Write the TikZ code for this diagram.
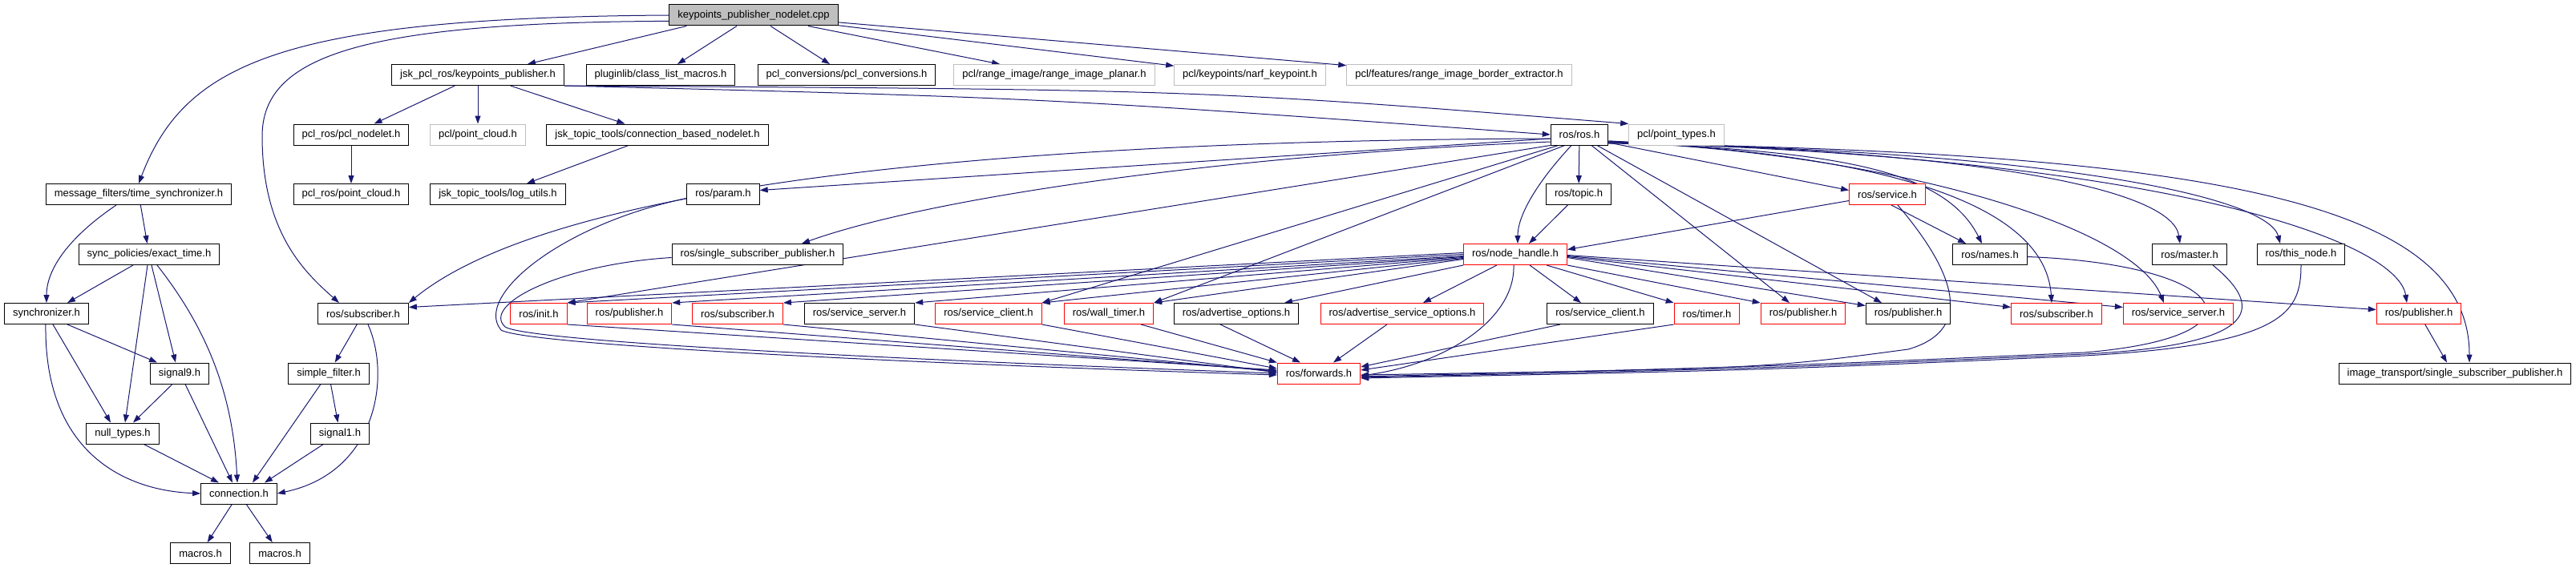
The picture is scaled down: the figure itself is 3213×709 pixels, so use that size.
\documentclass[tikz,border=0pt]{standalone}
\usepackage{fontspec}
\setmainfont{Liberation Sans}
\usetikzlibrary{arrows.meta,backgrounds}
\definecolor{edgeblue}{HTML}{191970}
\definecolor{greyline}{HTML}{BFBFBF}
\definecolor{rootgrey}{HTML}{BFBFBF}
\definecolor{cutred}{HTML}{FF0000}
\tikzstyle{hdrbox} = [
    draw=black,
    fill=white,
    line width=1pt,
    rectangle,
    font=\fontsize{13}{15}\selectfont,
    inner xsep=10.5pt,
    inner ysep=2pt,
    minimum height=26pt
    ]
\tikzstyle{extbox} = [hdrbox, draw=greyline]
\tikzstyle{redbox} = [hdrbox, draw=cutred]
\tikzstyle{rootbox} = [hdrbox, fill=rootgrey]
\tikzstyle{dep} = [
    draw=edgeblue,
    line width=1pt,
    -{Triangle[length=10pt,width=7pt]}
    ]

\begin{document}
\begin{tikzpicture}[x=1pt,y=1pt]
\useasboundingbox (0,0) rectangle (3213,-709);
% row 0 and 1
\node[rootbox] (root) at (940,-19) {keypoints\_publisher\_nodelet.cpp};
\node[hdrbox] (kph) at (596,-93.5) {jsk\_pcl\_ros/keypoints\_publisher.h};
\node[hdrbox] (plugin) at (824,-93.5) {pluginlib/class\_list\_macros.h};
\node[hdrbox] (pclconv) at (1056,-93.5) {pcl\_conversions/pcl\_conversions.h};
\node[extbox] (rangeplanar) at (1315,-93.5) {pcl/range\_image/range\_image\_planar.h};
\node[extbox] (narf) at (1559,-93.5) {pcl/keypoints/narf\_keypoint.h};
\node[extbox] (border) at (1820,-93.5) {pcl/features/range\_image\_border\_extractor.h};
% row 2
\node[hdrbox] (pclnodelet) at (438,-168) {pcl\_ros/pcl\_nodelet.h};
\node[extbox] (pointcloud) at (596,-168) {pcl/point\_cloud.h};
\node[hdrbox] (connnodelet) at (820,-168) {jsk\_topic\_tools/connection\_based\_nodelet.h};
\node[hdrbox] (rosh) at (1970,-168) {ros/ros.h};
\node[extbox] (pointtypes) at (2091,-168) {pcl/point\_types.h};
% row 3
\node[hdrbox] (timesync) at (173,-242.5) {message\_filters/time\_synchronizer.h};
\node[hdrbox] (pclpc) at (438,-242.5) {pcl\_ros/point\_cloud.h};
\node[hdrbox] (logutils) at (621,-242.5) {jsk\_topic\_tools/log\_utils.h};
\node[hdrbox] (param) at (902,-242.5) {ros/param.h};
\node[hdrbox] (topic) at (1969,-242.5) {ros/topic.h};
\node[redbox] (service) at (2354,-242.5) {ros/service.h};
% row 4
\node[hdrbox] (exacttime) at (186,-317.5) {sync\_policies/exact\_time.h};
\node[hdrbox] (ssp) at (945,-317.5) {ros/single\_subscriber\_publisher.h};
\node[redbox] (nodehandle) at (1890,-317.5) {ros/node\_handle.h};
\node[hdrbox] (names) at (2482,-317.5) {ros/names.h};
\node[hdrbox] (master) at (2731,-317.5) {ros/master.h};
\node[hdrbox] (thisnode) at (2870,-317.5) {ros/this\_node.h};
% row 5
\node[hdrbox] (sync) at (58,-391.5) {synchronizer.h};
\node[hdrbox] (sub) at (453,-391.5) {ros/subscriber.h};
\node[redbox] (init) at (672,-391.5) {ros/init.h};
\node[redbox] (pubA) at (785,-391.5) {ros/publisher.h};
\node[redbox] (subA) at (920,-391.5) {ros/subscriber.h};
\node[hdrbox] (srvsrvA) at (1072,-391.5) {ros/service\_server.h};
\node[redbox] (srvcliA) at (1233,-391.5) {ros/service\_client.h};
\node[redbox] (walltimer) at (1383,-391.5) {ros/wall\_timer.h};
\node[hdrbox] (advopt) at (1542,-391.5) {ros/advertise\_options.h};
\node[redbox] (advsrvopt) at (1749,-391.5) {ros/advertise\_service\_options.h};
\node[hdrbox] (srvcliB) at (1996,-391.5) {ros/service\_client.h};
\node[redbox] (timer) at (2129,-391.5) {ros/timer.h};
\node[redbox] (pubB) at (2249,-391.5) {ros/publisher.h};
\node[hdrbox] (pubC) at (2380,-391.5) {ros/publisher.h};
\node[redbox] (subB) at (2565,-391.5) {ros/subscriber.h};
\node[redbox] (srvsrvB) at (2717,-391.5) {ros/service\_server.h};
\node[redbox] (pubD) at (3017,-391.5) {ros/publisher.h};
% row 6 to 9
\node[hdrbox] (signal9) at (224,-466) {signal9.h};
\node[hdrbox] (simplefilter) at (410,-466) {simple\_filter.h};
\node[redbox] (forwards) at (1645,-466) {ros/forwards.h};
\node[hdrbox] (itssp) at (3062,-466) {image\_transport/single\_subscriber\_publisher.h};
\node[hdrbox] (nulltypes) at (153,-541) {null\_types.h};
\node[hdrbox] (signal1) at (424,-541) {signal1.h};
\node[hdrbox] (connection) at (298,-616) {connection.h};
\node[hdrbox] (macrosA) at (250,-690.5) {macros.h};
\node[hdrbox] (macrosB) at (349,-690.5) {macros.h};

\begin{scope}[on background layer]
% includes of the nodelet
\draw[dep] ([xshift=22pt]root.south west) -- ([xshift=62pt]kph.north);
\draw[dep] (root) -- (plugin);
\draw[dep] (root) -- (pclconv);
\draw[dep] (root) -- (rangeplanar);
\draw[dep] (root) -- (narf);
\draw[dep] (root) -- (border);
\draw[dep] (root.west) .. controls (350,-22) and (230,-80) .. (timesync.north);
\draw[dep] (root.184) .. controls (450,-28) and (327,-70) .. (327,-170)
    .. controls (327,-290) and (380,-340) .. ([xshift=-30pt]sub.north);
% keypoints_publisher.h
\draw[dep] (kph) -- (pclnodelet);
\draw[dep] (kph) -- (pointcloud);
\draw[dep] (kph) -- (connnodelet);
\draw[dep] (kph.south east) .. controls (1300,-122) .. (rosh.west);
\draw[dep] (kph.south east) .. controls (1500,-112) .. (pointtypes.north west);
\draw[dep] (pclnodelet) -- (pclpc);
\draw[dep] (connnodelet) -- (logutils);
% message_filters
\draw[dep] ([xshift=-28pt]timesync.south) .. controls (80,-300) and (58,-340) .. (sync.north);
\draw[dep] (timesync) -- (exacttime);
\draw[dep] ([xshift=-20pt]exacttime.south) -- ([xshift=26pt]sync.north);
\draw[dep] ([xshift=3pt]exacttime.south) -- ([xshift=-5pt]signal9.north);
\draw[dep] ([xshift=-2pt]exacttime.south) -- ([xshift=3pt]nulltypes.north);
\draw[dep] ([xshift=10pt]exacttime.south) .. controls (250,-400) and (290,-480) .. ([xshift=-2pt]connection.north);
\draw[dep] ([xshift=26pt]sync.south) -- ([xshift=-28pt]signal9.north);
\draw[dep] ([xshift=8pt]sync.south) -- ([xshift=-15pt]nulltypes.north);
\draw[dep] ([xshift=-1pt]sync.south) .. controls (55,-560) and (150,-612) .. (connection.west);
\draw[dep] ([xshift=-9pt]signal9.south) -- ([xshift=13pt]nulltypes.north);
\draw[dep] ([xshift=7pt]signal9.south) -- ([xshift=-8pt]connection.north);
\draw[dep] (nulltypes) -- ([xshift=-25pt]connection.north);
\draw[dep] (sub) -- (simplefilter);
\draw[dep] ([xshift=6pt]sub.south) .. controls (488,-470) and (470,-590) .. (connection.east);
\draw[dep] (simplefilter) -- (signal1);
\draw[dep] ([xshift=-10pt]simplefilter.south) -- ([xshift=17pt]connection.north);
\draw[dep] (signal1) -- ([xshift=32pt]connection.north);
\draw[dep] (connection) -- (macrosA);
\draw[dep] (connection) -- (macrosB);
% ros/ros.h
\draw[dep] ([yshift=-5pt]rosh.west) .. controls (1300,-175) and (700,-222) .. (sub.north east);
\draw[dep] ([yshift=-5pt]rosh.west) -- ([yshift=5pt]param.east);
\draw[dep] ([yshift=-9pt]rosh.west) .. controls (1500,-195) and (1150,-250) .. ([xshift=55pt]ssp.north);
\draw[dep] (rosh.south west) -- (init.north east);
\draw[dep] ([xshift=10pt]rosh.south west) -- (srvcliA.north east);
\draw[dep] ([xshift=18pt]rosh.south west) -- (walltimer.north east);
\draw[dep] (rosh) -- (topic);
\draw[dep] ([xshift=-10pt]rosh.south) .. controls (1915,-230) and (1893,-270) .. ([xshift=3pt]nodehandle.north);
\draw[dep] ([xshift=15pt]rosh.south) -- ([xshift=-17pt]pubB.north);
\draw[dep] ([xshift=22pt]rosh.south) -- ([xshift=-33pt]pubC.north);
\draw[dep] ([yshift=-10pt]rosh.east) -- ([yshift=5pt]service.west);
\draw[dep] ([yshift=-8pt]rosh.east) .. controls (2250,-190) and (2420,-200) .. ([xshift=-10pt]names.north);
\draw[dep] ([yshift=-8pt]rosh.east) .. controls (2300,-190) and (2550,-240) .. ([xshift=-6pt]subB.north);
\draw[dep] ([yshift=-9pt]rosh.east) .. controls (2350,-190) and (2660,-280) .. ([xshift=-18pt]srvsrvB.north);
\draw[dep] ([yshift=-9pt]rosh.east) .. controls (2500,-190) and (2710,-240) .. ([xshift=-12pt]master.north);
\draw[dep] ([yshift=-10pt]rosh.east) .. controls (2600,-190) and (2830,-250) .. ([xshift=-26pt]thisnode.north);
\draw[dep] ([yshift=-10pt]rosh.east) .. controls (2700,-195) and (2990,-300) .. ([xshift=-15pt]pubD.north);
\draw[dep] ([yshift=-11pt]rosh.east) .. controls (2750,-190) and (3080,-250) .. ([xshift=18pt]itssp.north);
% ros/service.h and ros/topic.h
\draw[dep] (topic) -- ([xshift=17pt]nodehandle.north);
\draw[dep] ([yshift=-8pt]service.west) -- ([yshift=6pt]nodehandle.east);
\draw[dep] ([xshift=5pt]service.south) -- ([xshift=-30pt]names.north);
\draw[dep] ([xshift=13pt]service.south) .. controls (2430,-330) and (2470,-410) .. (2380,-436)
    .. controls (2200,-460) .. ([yshift=-2pt]forwards.east);
% ros/node_handle.h
\draw[dep] ([yshift=2pt]nodehandle.west) -- ([yshift=8pt]sub.east);
\draw[dep] (nodehandle.west) -- (init.north east);
\draw[dep] ([yshift=-2pt]nodehandle.west) -- (pubA.north east);
\draw[dep] ([yshift=-3pt]nodehandle.west) -- (subA.north east);
\draw[dep] ([yshift=-4pt]nodehandle.west) -- (srvsrvA.north east);
\draw[dep] ([yshift=-5pt]nodehandle.west) -- (srvcliA.north east);
\draw[dep] ([yshift=-6pt]nodehandle.west) -- (walltimer.north east);
\draw[dep] (nodehandle.south west) -- ([xshift=60pt]advopt.north);
\draw[dep] ([xshift=-23pt]nodehandle.south) -- ([xshift=26pt]advsrvopt.north);
\draw[dep] ([xshift=18pt]nodehandle.south) -- ([xshift=-24pt]srvcliB.north);
\draw[dep] ([xshift=39pt]nodehandle.south) -- (timer.north west);
\draw[dep] (nodehandle.south east) -- (pubB.north west);
\draw[dep] ([yshift=-4pt]nodehandle.east) -- ([yshift=10pt]pubC.west);
\draw[dep] ([yshift=-3pt]nodehandle.east) -- ([yshift=8pt]subB.west);
\draw[dep] ([yshift=-2pt]nodehandle.east) -- ([yshift=8pt]srvsrvB.west);
\draw[dep] ([yshift=-1pt]nodehandle.east) -- ([yshift=5pt]pubD.west);
\draw[dep] ([xshift=-2pt]nodehandle.south) .. controls (1890,-400) and (1800,-455) .. ([yshift=-3pt]forwards.east);
% into ros/forwards.h
\draw[dep] ([yshift=-5pt]param.west) .. controls (700,-280) and (590,-370) .. (625,-412)
    .. controls (660,-432) and (1200,-456) .. ([yshift=-2pt]forwards.west);
\draw[dep] ([yshift=-4pt]ssp.west) .. controls (700,-330) and (600,-380) .. (630,-408)
    .. controls (660,-428) and (1200,-452) .. (forwards.west);
\draw[dep] (init.south east) -- ([yshift=4pt]forwards.west);
\draw[dep] (pubA.south east) -- ([yshift=3pt]forwards.west);
\draw[dep] (subA.south east) -- ([yshift=2pt]forwards.west);
\draw[dep] (srvsrvA.south east) -- ([yshift=1pt]forwards.west);
\draw[dep] (srvcliA.south east) -- ([yshift=6pt]forwards.west);
\draw[dep] ([xshift=-16pt]walltimer.south east) -- (forwards.north west);
\draw[dep] ([xshift=-20pt]advopt.south) -- ([xshift=-23pt]forwards.north);
\draw[dep] (advsrvopt) -- ([xshift=18pt]forwards.north);
\draw[dep] ([xshift=-50pt]srvcliB.south) -- ([yshift=8pt]forwards.east);
\draw[dep] (timer.south west) -- ([yshift=4pt]forwards.east);
\draw[dep] ([yshift=-3pt]names.east) .. controls (2780,-330) and (2840,-420) .. (2600,-440)
    .. controls (2200,-458) .. ([yshift=-4pt]forwards.east);
\draw[dep] ([xshift=29pt]master.south) .. controls (2820,-380) and (2830,-430) .. (2600,-442)
    .. controls (2200,-460) .. ([yshift=-5pt]forwards.east);
\draw[dep] (thisnode.south) .. controls (2870,-390) and (2850,-430) .. (2600,-444)
    .. controls (2200,-462) .. ([yshift=-6pt]forwards.east);
\draw[dep] (pubD) -- ([xshift=-10pt]itssp.north);
\end{scope}
\end{tikzpicture}
\end{document}
